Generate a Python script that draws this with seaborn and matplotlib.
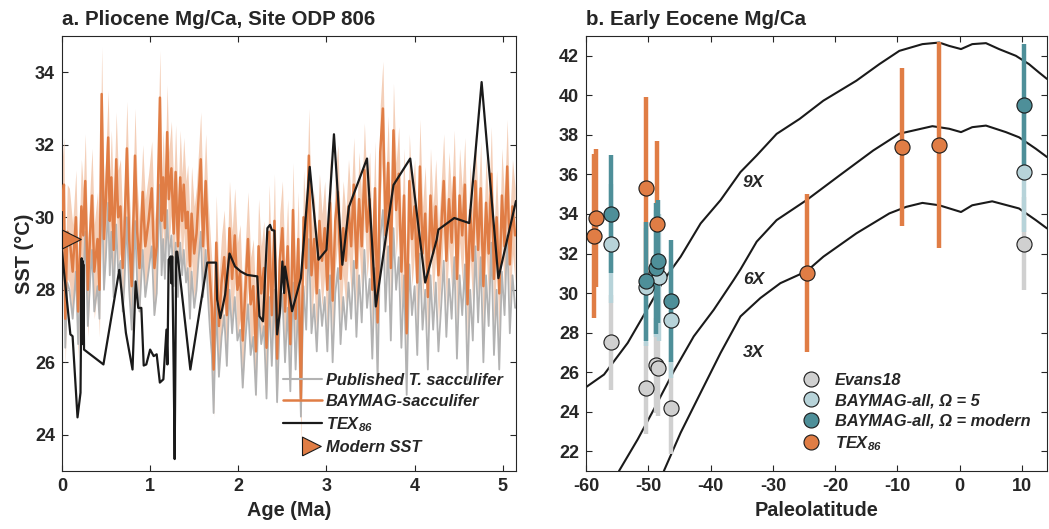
import numpy as np
import pandas as pd
import matplotlib
matplotlib.use('Agg')
import matplotlib.pyplot as plt
from matplotlib.lines import Line2D
import seaborn as sb

# ---------------- panel a : Pliocene Mg/Ca, Site ODP 806 ----------------
age_mgca = [0.000, 0.022, 0.037, 0.060, 0.084, 0.121, 0.158, 0.183, 0.220, 0.242,
            0.264, 0.293, 0.320, 0.341, 0.366, 0.403, 0.425, 0.450, 0.476, 0.498,
            0.524, 0.542, 0.560, 0.586, 0.615, 0.637, 0.663, 0.689, 0.707, 0.736,
            0.762, 0.791, 0.828, 0.853, 0.879, 0.916, 0.945, 0.982, 1.018, 1.048,
            1.074, 1.111, 1.130, 1.148, 1.167, 1.193, 1.211, 1.241, 1.267, 1.289,
            1.315, 1.341, 1.363, 1.381, 1.407, 1.426, 1.452, 1.470, 1.500, 1.526,
            1.548, 1.574, 1.600, 1.630, 1.656, 1.678, 1.700,
            1.72, 1.75, 1.78, 1.81, 1.84, 1.87, 1.90, 1.93, 1.96, 1.99,
            2.02, 2.05, 2.08, 2.11, 2.14, 2.17, 2.20, 2.23, 2.26, 2.29,
            2.32, 2.35, 2.38, 2.41, 2.44, 2.47, 2.50, 2.53, 2.56, 2.59,
            2.62, 2.65, 2.68, 2.71, 2.74, 2.77, 2.80, 2.83, 2.86, 2.89,
            2.92, 2.95, 2.98, 3.01, 3.04, 3.07, 3.10, 3.13, 3.16, 3.19,
            3.22, 3.25, 3.28, 3.31, 3.34, 3.37, 3.40, 3.43, 3.46, 3.49,
            3.52, 3.55, 3.58, 3.61, 3.64, 3.67, 3.70, 3.73, 3.76, 3.79,
            3.82, 3.85, 3.88, 3.91, 3.94, 3.97, 4.00, 4.03, 4.06, 4.09,
            4.12, 4.15, 4.18, 4.21, 4.24, 4.27, 4.30, 4.33, 4.36, 4.39,
            4.42, 4.45, 4.48, 4.51, 4.54, 4.57, 4.60, 4.63, 4.66, 4.69,
            4.72, 4.75, 4.78, 4.81, 4.84, 4.87, 4.90, 4.93, 4.96, 4.99,
            5.02, 5.05, 5.08, 5.11, 5.14]

sst_baymag = [30.2, 30.9, 27.2, 29.6, 29.5, 28.5, 30.0, 27.4, 30.3, 29.5,
              31.0, 28.0, 29.6, 30.6, 28.5, 29.4, 28.0, 33.4, 29.4, 30.5,
              32.2, 29.9, 31.1, 29.1, 31.6, 30.0, 30.3, 28.6, 29.5, 31.9,
              29.4, 28.1, 31.7, 29.6, 28.6, 30.7, 29.2, 29.9, 30.8, 28.6,
              29.2, 33.3, 29.9, 31.1, 29.7, 32.35, 30.5, 31.35, 29.55, 31.25,
              29.2, 31.1, 29.9, 30.9, 29.7, 30.15, 28.65, 30.1, 29.0, 29.55,
              30.5, 31.6, 29.2, 31.0, 29.2, 28.35, 27.5,
              25.8, 29.3, 27.0, 28.2, 28.9, 27.3, 29.7, 28.3, 29.5, 28.0,
              28.5, 26.6, 28.0, 29.4, 27.6, 28.1, 26.3, 29.2, 27.9, 28.6,
              26.4, 29.6, 27.3, 29.9, 26.1, 28.8, 29.7, 27.4, 29.2, 26.5,
              30.2, 27.2, 29.4, 25.0, 30.0, 28.6, 31.7, 28.4, 29.4, 27.9,
              29.9, 28.8, 29.7, 28.0, 30.4, 27.7, 29.9, 30.7, 28.3, 29.7,
              28.8, 30.3, 29.2, 30.9, 28.6, 30.5, 29.2, 31.3, 29.6, 30.5,
              28.0, 30.8, 27.1, 31.8, 33.0, 29.5, 31.5, 28.6, 32.4, 30.2,
              31.2, 28.5, 30.6, 26.8, 31.0, 29.4, 30.3, 28.2, 31.4, 29.0,
              30.1, 27.8, 30.6, 29.0, 30.3, 28.4, 29.6, 31.0, 28.8, 30.5,
              29.3, 31.1, 28.3, 30.6, 29.5, 30.9, 27.6, 30.2, 28.8, 31.0,
              29.1, 30.8, 28.1, 30.4, 29.0, 31.2, 28.3, 30.0, 27.9, 30.6,
              29.2, 31.4, 28.7, 30.3, 29.5]

sst_published = [28.6, 29.5, 26.4, 28.2, 28.0, 27.2, 28.5, 26.5, 28.8, 28.2,
                 29.6, 27.0, 28.3, 29.1, 27.4, 28.1, 27.2, 31.2, 28.0, 28.9,
                 30.4, 28.4, 29.6, 27.8, 29.8, 28.5, 28.8, 27.4, 28.1, 30.0,
                 28.0, 26.9, 29.9, 28.2, 27.4, 29.1, 27.8, 28.5, 29.2, 27.3,
                 27.9, 30.9, 28.4, 29.4, 28.3, 30.2, 28.9, 29.5, 28.1, 29.3,
                 27.8, 29.3, 28.4, 29.1, 28.2, 28.6, 27.2, 28.5, 27.5, 28.0,
                 28.8, 29.6, 27.8, 29.1, 27.8, 26.9, 26.2,
                 24.6, 27.6, 25.6, 26.7, 27.3, 25.9, 28.0, 26.8, 27.8, 26.6,
                 26.9, 25.3, 26.6, 27.6, 26.2, 26.7, 25.1, 27.5, 26.5, 27.0,
                 25.0, 27.8, 25.9, 28.0, 24.9, 27.2, 27.9, 26.0, 27.5, 25.2,
                 28.2, 25.8, 27.7, 24.5, 28.1, 26.9, 29.4, 26.8, 27.6, 26.3,
                 28.0, 27.0, 27.8, 26.3, 28.4, 26.0, 27.9, 28.6, 26.5, 27.8,
                 26.9, 28.2, 27.2, 28.8, 26.7, 28.4, 27.1, 29.1, 27.5, 28.3,
                 26.1, 28.6, 25.5, 29.4, 30.2, 27.4, 29.2, 26.6, 29.7, 28.0,
                 28.9, 26.4, 28.4, 25.1, 28.7, 27.3, 28.1, 26.2, 29.0, 26.9,
                 28.0, 25.8, 28.4, 26.9, 28.2, 26.3, 27.5, 28.8, 26.7, 28.3,
                 27.2, 28.9, 26.1, 28.4, 27.3, 28.7, 25.5, 28.0, 26.6, 29.2,
                 27.1, 28.9, 26.0, 28.4, 27.0, 29.3, 26.2, 28.0, 25.8, 28.5,
                 27.3, 29.5, 26.8, 28.4, 27.5]

baymag_sigma = 1.3  # half width of the shaded BAYMAG band (degC)

age_tex = [0.00, 0.095, 0.12, 0.176, 0.21, 0.223, 0.228, 0.232, 0.238, 0.242,
           0.25, 0.47, 0.65, 0.725, 0.80, 0.835, 0.865, 0.90, 0.927, 0.956,
           1.00, 1.04, 1.074, 1.11, 1.15, 1.185, 1.196, 1.21, 1.233, 1.24,
           1.25, 1.267, 1.278, 1.296, 1.307, 1.456, 1.648, 1.748, 1.76, 1.796,
           1.85, 1.90, 1.963, 2.03, 2.10, 2.215, 2.24, 2.28, 2.33, 2.36,
           2.38, 2.41, 2.44, 2.47, 2.50, 2.52, 2.53, 2.61, 2.71, 2.81,
           2.91, 3.00, 3.085, 3.18, 3.255, 3.46, 3.56, 3.76, 3.95, 4.12,
           4.25, 4.27, 4.45, 4.62, 4.76, 4.95, 5.15]
sst_tex = [29.05, 26.77, 26.72, 24.48, 25.16, 28.87, 26.5, 28.8, 26.6, 28.7,
           26.35, 25.94, 28.55, 26.81, 25.80, 28.23, 27.5, 27.5, 25.91, 25.94,
           26.35, 26.17, 26.22, 25.44, 25.53, 26.9, 25.94, 28.83, 28.92, 28.18,
           28.92, 25.76, 23.33, 29.05, 29.05, 25.8, 28.75, 28.75, 27.73, 27.22,
           27.86, 29.0, 28.64, 28.5, 28.41, 28.37, 27.27, 27.13, 29.7, 29.79,
           29.65, 29.63, 26.77, 27.36, 28.78, 27.91, 28.64, 27.41, 28.32, 31.39,
           28.83, 29.1, 32.29, 28.69, 30.29, 31.62, 27.54, 30.89, 31.62, 28.2,
           29.38, 29.66, 29.98, 29.84, 33.73, 28.32, 30.45]

modern_age = 0.0
modern_sst = 29.4

# ---------------- panel b : Early Eocene Mg/Ca ----------------
lat_evans = [-56.0, -50.3, -48.7, -48.5, -46.4, 10.3]
sst_evans = [27.5, 25.2, 26.35, 26.2, 24.2, 32.5]
err_evans = [2.4, 2.35, 2.4, 2.4, 2.35, 2.35]

lat_omega5 = [-56.0, -50.3, -48.7, -48.3, -46.4, 10.3]
sst_omega5 = [32.5, 30.3, 31.0, 30.8, 28.65, 36.1]
err_omega5 = [3.0, 3.0, 3.2, 3.2, 2.95, 3.0]

lat_modern = [-56.0, -50.3, -48.7, -48.5, -46.4, 10.3]
sst_modern = [34.0, 30.6, 31.25, 31.6, 29.6, 39.5]
err_modern = [3.0, 3.0, 3.3, 3.1, 3.1, 3.1]

lat_tex = [-58.7, -58.4, -50.3, -48.6, -24.6, -9.2, -3.3]
sst_tex_eo = [32.9, 33.8, 35.3, 33.5, 31.0, 37.4, 37.5]
err_tex_eo = [4.15, 3.5, 4.6, 4.2, 4.0, 4.0, 5.2]

# model zonal-mean SST for 9X, 6X and 3X CO2
lat_9x = [-60, -57.1, -53.3, -49.6, -47.5, -44.8, -41.6, -38.4, -35.2, -32.6,
          -29.4, -25.7, -21.9, -16.6, -12.9, -9.7, -6.0, -3.3, -1.7, 0.2,
          2.0, 4.2, 6.3, 9.0, 11.1, 12.7, 14]
sst_9x = [25.24, 25.88, 27.48, 29.49, 30.66, 31.84, 33.52, 34.7, 36.12, 36.96,
          38.05, 38.81, 39.73, 40.74, 41.58, 42.25, 42.59, 42.67, 42.5, 42.34,
          42.59, 42.64, 42.34, 42.0, 41.58, 41.16, 40.83]
lat_6x = [-54.7, -51.7, -49.1, -45.9, -42.7, -39.5, -36.3, -35.2, -32.6, -29.4,
          -24.6, -19.3, -13.9, -9.7, -4.4, -1.7, 0.2, 2.0, 4.2, 7.4,
          9.5, 12.2, 14]
sst_6x = [21.0, 22.6, 24.12, 26.05, 27.81, 29.15, 30.66, 31.2, 32.6, 33.69,
          34.7, 35.95, 37.21, 38.06, 38.44, 38.31, 38.14, 38.39, 38.47, 38.14,
          37.88, 37.3, 36.88]
lat_3x = [-47.5, -44.8, -41.6, -38.4, -35.2, -32.0, -28.8, -24.6, -21.9, -16.6,
          -11.3, -8.6, -6.0, -3.3, 0.2, 2.0, 5.2, 9.5, 12.2, 14]
sst_3x = [21.0, 22.94, 24.96, 26.97, 28.82, 29.75, 30.5, 31.1, 31.84, 33.02,
          34.03, 34.36, 34.56, 34.44, 34.1, 34.44, 34.64, 34.28, 33.69, 33.27]

# ---------------- style ----------------
sb.set_theme(style='ticks')
plt.rcParams['font.family'] = ['Liberation Sans', 'DejaVu Sans']
plt.rcParams['font.weight'] = 'bold'
plt.rcParams['axes.labelweight'] = 'bold'
plt.rcParams['axes.unicode_minus'] = False
plt.rcParams['mathtext.fontset'] = 'custom'
plt.rcParams['mathtext.rm'] = 'Liberation Sans:bold:italic'
plt.rcParams['mathtext.it'] = 'Liberation Sans:bold:italic'
plt.rcParams['mathtext.bf'] = 'Liberation Sans:bold:italic'

dark = '#262626'
orange = '#e07d45'
band = '#f4cfb8'
grey_line = '#b3b3b3'
grey_pt = '#d0d0d0'
lightblue = '#b7d3d9'
teal = '#4e8f99'

fig = plt.figure(figsize=(10.49, 5.29), dpi=100)
ax1 = fig.add_axes([0.0591, 0.1096, 0.4328, 0.8223])
ax2 = fig.add_axes([0.5586, 0.1096, 0.4395, 0.8223])

# ---- panel a ----
df_mg = pd.DataFrame({'age': age_mgca, 'baymag': sst_baymag, 'published': sst_published})
ax1.fill_between(df_mg['age'], df_mg['baymag'] - baymag_sigma, df_mg['baymag'] + baymag_sigma,
                 color=band, lw=0, zorder=1)
sb.lineplot(data=df_mg, x='age', y='published', ax=ax1, color=grey_line, lw=1.3, zorder=2)
sb.lineplot(data=df_mg, x='age', y='baymag', ax=ax1, color=orange, lw=1.8, zorder=3)
sb.lineplot(x=age_tex, y=sst_tex, ax=ax1, color='k', lw=1.6, sort=False, zorder=4)

tri = [(0, -0.5), (1, 0), (0, 0.5), (0, -0.5)]
ax1.plot([modern_age], [modern_sst], ls='none', marker=tri, ms=27, mfc=orange,
         mec='k', mew=0.8, zorder=5, clip_on=False)

ax1.set_xlim(0, 5.15)
ax1.set_ylim(23, 35)
ax1.set_xticks(range(0, 6))
ax1.set_yticks(range(24, 35, 2))
ax1.set_xlabel('Age (Ma)', fontsize=14.3, color=dark, labelpad=4)
ax1.set_ylabel('SST (°C)', fontsize=14.3, color=dark, labelpad=1)
ax1.set_title('a. Pliocene Mg/Ca, Site ODP 806', loc='left', fontsize=14.8,
              fontweight='bold', pad=8)

handles_a = [Line2D([], [], color=grey_line, lw=1.5),
             Line2D([], [], color=orange, lw=1.8),
             Line2D([], [], color='k', lw=1.6),
             Line2D([], [], ls='none', marker=tri, ms=27, mfc=orange, mec='k', mew=0.8)]
labels_a = ['Published T. sacculifer', 'BAYMAG-sacculifer', 'TEX$_{86}$', 'Modern SST']
ax1.legend(handles_a, labels_a, loc='upper left', bbox_to_anchor=(0.468, 0.245),
           frameon=False, prop={'size': 11.8, 'weight': 'bold', 'style': 'italic'},
           handlelength=2.4, handletextpad=0.25, labelspacing=0.38, borderpad=0)

# ---- panel b ----
for lat, sst, err, c in [(lat_tex, sst_tex_eo, err_tex_eo, orange),
                         (lat_evans, sst_evans, err_evans, grey_pt),
                         (lat_omega5, sst_omega5, err_omega5, lightblue),
                         (lat_modern, sst_modern, err_modern, teal)]:
    sst = np.array(sst)
    err = np.array(err)
    ax2.vlines(lat, sst - err, sst + err, color=c, lw=3.2, zorder=2)

for name, lat_c, sst_c in [('9X', lat_9x, sst_9x), ('6X', lat_6x, sst_6x), ('3X', lat_3x, sst_3x)]:
    sb.lineplot(x=lat_c, y=sst_c, ax=ax2, color='k', lw=1.5, sort=False, zorder=1)

for lat, sst, c in [(lat_evans, sst_evans, grey_pt),
                    (lat_omega5, sst_omega5, lightblue),
                    (lat_modern, sst_modern, teal),
                    (lat_tex, sst_tex_eo, orange)]:
    sb.scatterplot(x=lat, y=sst, ax=ax2, s=118, color=c, edgecolor='k', linewidth=0.8, zorder=3)

ax2.text(-33.1, 35.6, '9X', fontsize=12.5, fontweight='bold', fontstyle='italic', ha='center', va='center')
ax2.text(-33.1, 30.7, '6X', fontsize=12.5, fontweight='bold', fontstyle='italic', ha='center', va='center')
ax2.text(-33.1, 27.0, '3X', fontsize=12.5, fontweight='bold', fontstyle='italic', ha='center', va='center')

ax2.set_xlim(-60, 14)
ax2.set_ylim(21, 43)
ax2.set_xticks(range(-60, 11, 10))
ax2.set_yticks(range(22, 43, 2))
ax2.set_xlabel('Paleolatitude', fontsize=14.3, color=dark, labelpad=4)
ax2.set_title('b. Early Eocene Mg/Ca', loc='left', fontsize=14.8, fontweight='bold', pad=8)

def circ(c):
    return Line2D([], [], ls='none', marker='o', ms=10.8, mfc=c, mec='k', mew=0.8)

handles_b = [circ(grey_pt), circ(lightblue), circ(teal), circ(orange)]
labels_b = ['Evans18', 'BAYMAG-all, Ω = 5', 'BAYMAG-all, Ω = modern', 'TEX$_{86}$']
ax2.legend(handles_b, labels_b, loc='upper left', bbox_to_anchor=(0.448, 0.245),
           frameon=False, prop={'size': 11.8, 'weight': 'bold', 'style': 'italic'},
           handlelength=1.2, handletextpad=0.9, labelspacing=0.33, borderpad=0)

for ax in (ax1, ax2):
    ax.tick_params(direction='in', length=4, width=0.8, top=True, right=True,
                   labelsize=13, colors=dark, pad=5)
    for lab in ax.get_xticklabels() + ax.get_yticklabels():
        lab.set_fontweight('bold')
    for sp in ax.spines.values():
        sp.set_visible(True)
        sp.set_color(dark)
        sp.set_linewidth(0.8)

fig.savefig('out.png', dpi=100)
